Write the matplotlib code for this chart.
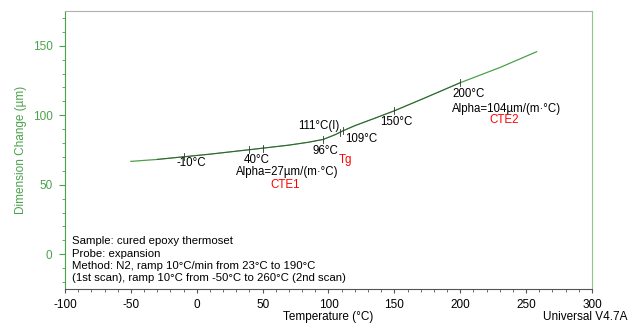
import matplotlib
matplotlib.use('Agg')
import matplotlib.pyplot as plt
from matplotlib.ticker import MultipleLocator

plt.rcParams['font.family'] = ['Liberation Sans', 'DejaVu Sans']
plt.rcParams['font.size'] = 8
plt.rcParams['axes.unicode_minus'] = False

# curve
temp = [-50, -30, -10, 10, 40, 50, 70, 85, 96, 105, 111, 120, 135, 150, 175, 200, 230, 258]
dim = [66.8, 68.2, 70.1, 72.0, 75.2, 76.3, 78.5, 80.6, 82.6, 86.0, 88.8, 92.5, 97.8, 103.2, 113.2, 123.4, 134.3, 145.7]

# analysis markers on the curve
mark_t = [-10, 40, 50, 96, 109, 111, 150, 200]
mark_y = [70.1, 75.2, 76.3, 82.6, 87.9, 88.8, 103.2, 123.4]

green = '#4aa24a'
fs = 8.3
fig = plt.figure(figsize=(6.29, 3.23), dpi=100)
ax = fig.add_axes([0.1033, 0.1053, 0.8379, 0.8607])

ax.plot(temp, dim, color=green, lw=0.9)
seg = [(t, d) for t, d in zip(temp, dim) if -35 <= t <= 200]
ax.plot([s[0] for s in seg], [s[1] for s in seg], color='#2f4f2f', lw=0.7, alpha=0.8)
for t, y in zip(mark_t, mark_y):
    ax.plot([t, t], [y - 2.5, y + 2.5], color='#333333', lw=0.6)

ax.set_xlim(-100, 300)
ax.set_ylim(-25, 175)
ax.xaxis.set_major_locator(MultipleLocator(50))
ax.xaxis.set_minor_locator(MultipleLocator(10))
ax.yaxis.set_major_locator(MultipleLocator(50))
ax.yaxis.set_minor_locator(MultipleLocator(10))
ax.tick_params(axis='x', which='both', direction='out', colors='#555555', labelcolor='black', labelsize=8.5, pad=4)
ax.tick_params(axis='x', which='major', length=3)
ax.tick_params(axis='x', which='minor', length=2)
ax.tick_params(axis='y', which='both', direction='out', colors=green, labelcolor=green, labelsize=8.5, pad=5)
ax.tick_params(axis='y', which='major', length=4)
ax.tick_params(axis='y', which='minor', length=2)

ax.spines['left'].set_color(green)
ax.spines['right'].set_color('#8cc88c')
ax.spines['top'].set_color('#b0b0b0')
ax.spines['bottom'].set_color('#555555')
for s in ax.spines.values():
    s.set_linewidth(0.8)

ax.set_xlabel('Temperature (°C)', fontsize=8.5, labelpad=0)
ax.set_ylabel('Dimension Change (µm)', fontsize=8.5, color=green, labelpad=4)

ax.text(-4, 65.5, '-10°C', ha='center', va='center', fontsize=fs)
ax.text(36, 67.5, '40°C', ha='left', va='center', fontsize=fs)
ax.text(30, 59.5, 'Alpha=27µm/(m·°C)', ha='left', va='center', fontsize=fs)
ax.text(67, 49.5, 'CTE1', ha='center', va='center', color='red', fontsize=fs)
ax.text(77, 92.3, '111°C(I)', ha='left', va='center', fontsize=fs)
ax.text(88, 74.3, '96°C', ha='left', va='center', fontsize=fs)
ax.text(108, 67.5, 'Tg', ha='left', va='center', color='red', fontsize=fs)
ax.text(113, 82.7, '109°C', ha='left', va='center', fontsize=fs)
ax.text(139, 94.8, '150°C', ha='left', va='center', fontsize=fs)
ax.text(194, 115.5, '200°C', ha='left', va='center', fontsize=fs)
ax.text(194, 104.7, 'Alpha=104µm/(m·°C)', ha='left', va='center', fontsize=fs)
ax.text(222, 96.8, 'CTE2', ha='left', va='center', color='red', fontsize=fs)

info = ['Sample: cured epoxy thermoset',
        'Probe: expansion',
        'Method: N2, ramp 10°C/min from 23°C to 190°C',
        '(1st scan), ramp 10°C from -50°C to 260°C (2nd scan)']
ax.text(-94.5, -4, '\n'.join(info), ha='left', va='center', linespacing=1.28, fontsize=8.2)

fig.text(0.998, 0.0, 'Universal V4.7A', ha='right', va='bottom', fontsize=8.5)

fig.savefig('out.png', dpi=100)
